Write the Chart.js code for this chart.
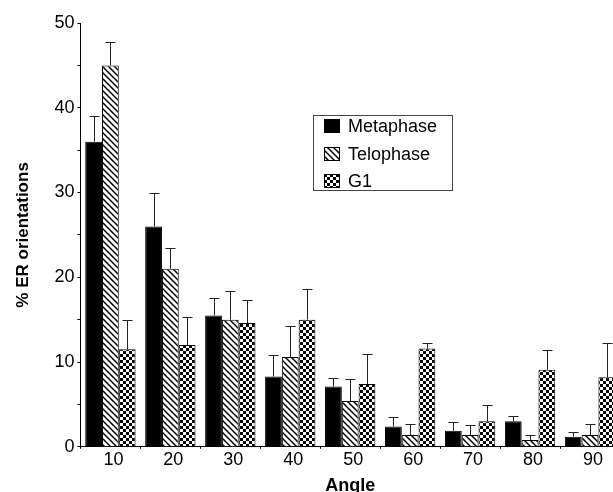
<!DOCTYPE html>
<html>
<head>
<meta charset="utf-8">
<script src="https://cdn.jsdelivr.net/npm/chart.js@4/dist/chart.umd.min.js"></script>
<style>
  html, body { margin: 0; padding: 0; background: #fff; overflow: hidden; }
  #wrap { width: 622px; height: 500px; }
</style>
</head>
<body>
<div id="wrap"><canvas id="myChart"></canvas></div>
<script>
const angles = ["10", "20", "30", "40", "50", "60", "70", "80", "90"];
const metaphase = [36, 26, 15.5, 8.3, 7.1, 2.4, 1.9, 3.0, 1.2];
const metaphaseErr = [3, 3.9, 2, 2.5, 1.0, 1.1, 1.0, 0.6, 0.5];
const telophase = [45, 21, 15, 10.6, 5.4, 1.4, 1.4, 0.8, 1.4];
const telophaseErr = [2.8, 2.5, 3.4, 3.7, 2.6, 1.3, 1.2, 0.6, 1.3];
const g1 = [11.5, 12, 14.6, 15, 7.4, 11.6, 3.0, 9.1, 8.2];
const g1Err = [3.5, 3.3, 2.7, 3.6, 3.6, 0.6, 1.9, 2.3, 4.1];

const FONT = "'Liberation Sans', Arial, Helvetica, sans-serif";

function hatchPattern() {
    const s = 6;
    const c = document.createElement("canvas");
    c.width = s; c.height = s;
    const g = c.getContext("2d");
    g.fillStyle = "#fff";
    g.fillRect(0, 0, s, s);
    g.strokeStyle = "#000";
    g.lineWidth = 1.5;
    g.beginPath();
    g.moveTo(-1, -1); g.lineTo(s + 1, s + 1);
    g.moveTo(-1, s - 1); g.lineTo(1, s + 1);
    g.moveTo(s - 1, -1); g.lineTo(s + 1, 1);
    g.stroke();
    return g.createPattern(c, "repeat");
}

function checkerPattern() {
    const n = 3;
    const c = document.createElement("canvas");
    c.width = n * 2; c.height = n * 2;
    const g = c.getContext("2d");
    g.fillStyle = "#fff";
    g.fillRect(0, 0, n * 2, n * 2);
    g.fillStyle = "#000";
    g.fillRect(0, 0, n, n);
    g.fillRect(n, n, n, n);
    return g.createPattern(c, "repeat");
}

const errors = [metaphaseErr, telophaseErr, g1Err];

// upward error bars with a cap
const errorBars = {
    id: "errorBars",
    afterDatasetsDraw(chart) {
        const ctx = chart.ctx;
        const y = chart.scales.y;
        ctx.save();
        ctx.strokeStyle = "#222";
        ctx.lineWidth = 1;
        chart.data.datasets.forEach((ds, i) => {
            const meta = chart.getDatasetMeta(i);
            meta.data.forEach((bar, j) => {
                const top = Math.round(y.getPixelForValue(ds.data[j] + errors[i][j])) + 0.5;
                const x = Math.round(bar.x) + 0.5;
                ctx.beginPath();
                ctx.moveTo(x, bar.y);
                ctx.lineTo(x, top);
                ctx.moveTo(x - 5, top);
                ctx.lineTo(x + 5, top);
                ctx.stroke();
            });
        });
        ctx.restore();
    },
};

// boxed legend placed inside the plot
const boxLegend = {
    id: "boxLegend",
    afterDraw(chart) {
        const ctx = chart.ctx;
        const x0 = 313.5, y0 = 115.5, w = 139, h = 75;
        ctx.save();
        ctx.fillStyle = "#fff";
        ctx.fillRect(x0, y0, w, h);
        ctx.strokeStyle = "#444";
        ctx.lineWidth = 1;
        ctx.strokeRect(x0, y0, w, h);
        ctx.font = "18px " + FONT;
        ctx.textBaseline = "middle";
        const rows = [126, 154, 181];
        chart.data.datasets.forEach((ds, i) => {
            ctx.fillStyle = ds.backgroundColor;
            ctx.fillRect(324, rows[i] - 7, 16, 14);
            ctx.strokeStyle = "#000";
            ctx.strokeRect(324.5, rows[i] - 6.5, 15, 13);
            ctx.fillStyle = "#000";
            ctx.fillText(ds.label, 348, rows[i] + 1);
        });
        ctx.restore();
    },
};

const data = {
    labels: angles,
    datasets: [
        { label: "Metaphase", data: metaphase, backgroundColor: "#000" },
        { label: "Telophase", data: telophase, backgroundColor: hatchPattern() },
        { label: "G1", data: g1, backgroundColor: checkerPattern() },
    ].map(d => Object.assign(d, {
        borderColor: "#000",
        borderWidth: 1,
        barPercentage: 1,
        categoryPercentage: 0.84,
    })),
};

const config = {
    type: "bar",
    data: data,
    options: {
        responsive: true,
        maintainAspectRatio: false,
        animation: false,
        layout: { padding: { left: 13, top: 23, right: 2, bottom: 3 } },
        plugins: {
            legend: { display: false },
            tooltip: { enabled: false },
        },
        scales: {
            x: {
                grid: { drawOnChartArea: false, tickLength: 2, color: "#000" },
                border: { color: "#000", width: 1 },
                ticks: {
                    color: "#000",
                    font: { family: FONT, size: 18 },
                    labelOffset: 3,
                    padding: 0,
                },
                title: {
                    display: true,
                    text: "Angle",
                    color: "#000",
                    font: { family: FONT, size: 18, weight: "bold" },
                    padding: { top: 5, bottom: 0 },
                },
            },
            y: {
                min: 0,
                max: 50,
                grid: { drawOnChartArea: false, tickLength: 3, color: "#000" },
                border: { color: "#000", width: 1 },
                ticks: {
                    stepSize: 5,
                    color: "#000",
                    font: { family: FONT, size: 18 },
                    padding: 3,
                    callback: v => (v % 10 === 0 ? v : ""),
                },
                title: {
                    display: true,
                    text: "% ER orientations",
                    color: "#000",
                    font: { family: FONT, size: 17, weight: "bold" },
                    padding: { top: 0, bottom: 18 },
                },
            },
        },
    },
    plugins: [errorBars, boxLegend],
};
const ctx = document.getElementById("myChart").getContext("2d");
const myChart = new Chart(ctx, config);
</script>
</body>
</html>
